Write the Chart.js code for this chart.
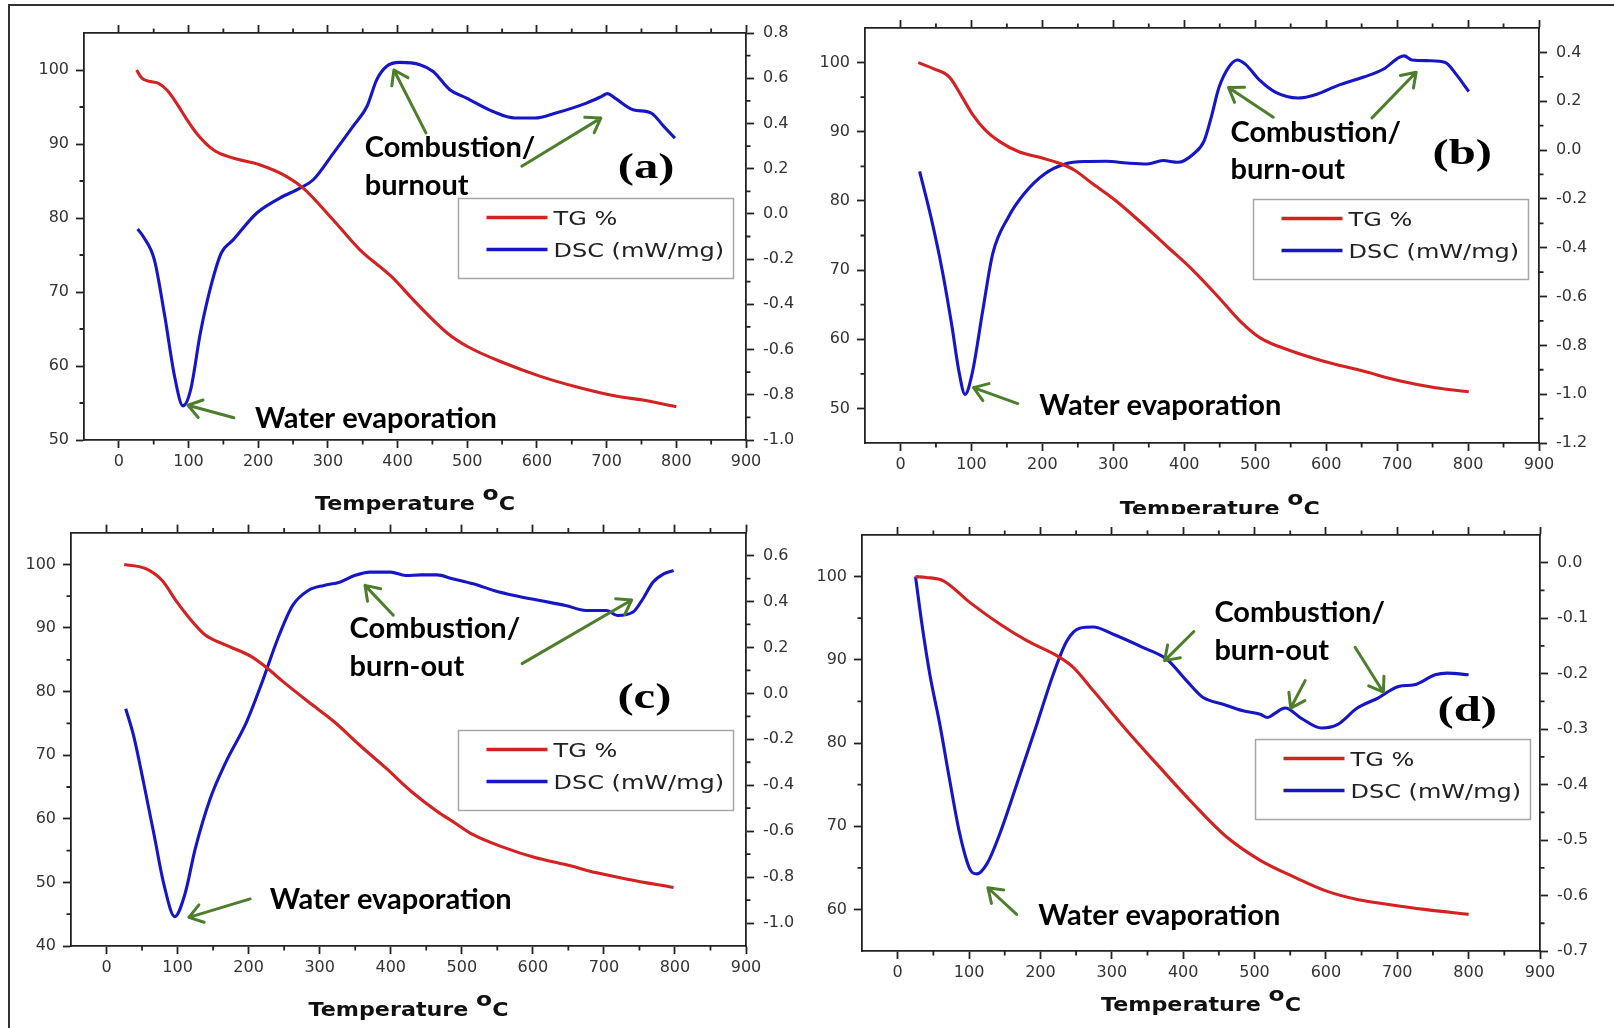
<!DOCTYPE html>
<html><head><meta charset="utf-8">
<script src="https://cdn.jsdelivr.net/npm/chart.js@4.4.1/dist/chart.umd.min.js"></script>
<style>
html,body{margin:0;padding:0;background:#fff;}
body{width:1614px;height:1028px;position:relative;overflow:hidden;}
#frame{position:absolute;left:8px;top:4px;width:1606px;height:1024px;border-top:2px solid #333;border-left:2px solid #333;box-sizing:border-box;pointer-events:none;}
.panel{position:absolute;width:807px;height:514px;}
canvas{display:block;}
</style></head>
<body>
<div class="panel" style="left:0;top:0"><canvas id="ca" width="807" height="514"></canvas></div>
<div class="panel" style="left:807px;top:0"><canvas id="cb" width="807" height="514"></canvas></div>
<div class="panel" style="left:0;top:514px"><canvas id="cc" width="807" height="514"></canvas></div>
<div class="panel" style="left:807px;top:514px"><canvas id="cd" width="807" height="514"></canvas></div>
<div id="frame"></div>
<script>
// ---------- DATA ----------
const seriesLabels = ['TG %', 'DSC (mW/mg)'];
const xTicks = [0,100,200,300,400,500,600,700,800,900];

// (a)
const tgA_T = [25.5,33,47,57,70,83,97,112,136,164,202,241,265,308,346,391,427,472,501,553,605,656,715,752,800];
const tgA   = [100,98.9,98.4,98.2,97.2,95.5,93.4,91.4,89.2,88.1,87.2,85.6,84.0,79.7,75.7,72.1,68.5,64.4,62.6,60.4,58.6,57.2,55.9,55.4,54.5];
const dscA_T = [27,35,51,66,80,92,103,117,132,147,164,198,231,260,279,308,336,356,370,384,403,432,451,475,499,537,568,597,627,671,693,701,712,738,764,782,798];
const dscA   = [-0.067,-0.100,-0.203,-0.454,-0.719,-0.849,-0.778,-0.527,-0.321,-0.173,-0.115,0.004,0.070,0.114,0.151,0.269,0.387,0.475,0.593,0.652,0.670,0.660,0.630,0.549,0.512,0.453,0.424,0.424,0.446,0.490,0.520,0.532,0.512,0.461,0.446,0.387,0.335];
const leftTicksA  = [50,60,70,80,90,100];
const rightTicksA = [-1.0,-0.8,-0.6,-0.4,-0.2,0.0,0.2,0.4,0.6,0.8];

// (b)
const tgB_T = [25,47,69,87,101,120,141,167,196,225,246,268,304,341,377,413,449,478,507,551,594,652,703,754,801];
const tgB   = [100,99.1,97.9,95.0,92.6,90.2,88.5,87.1,86.3,85.4,84.4,82.7,80.0,76.7,73.3,69.9,66.0,62.7,60.2,58.3,56.9,55.4,54.0,53.0,52.4];
const dscB_T = [27,43,58,72,83,91,101,116,130,152,174,203,232,261,290,319,348,370,391,413,428,438,449,464,475,486,507,529,560,587,616,652,681,703,710,721,746,768,783,801];
const dscB   = [-0.087,-0.275,-0.480,-0.712,-0.916,-1.001,-0.916,-0.657,-0.425,-0.275,-0.180,-0.098,-0.057,-0.047,-0.046,-0.053,-0.057,-0.043,-0.050,-0.016,0.038,0.134,0.257,0.345,0.369,0.352,0.284,0.236,0.213,0.229,0.264,0.298,0.332,0.380,0.386,0.369,0.366,0.359,0.311,0.240];
const leftTicksB  = [50,60,70,80,90,100];
const rightTicksB = [-1.2,-1.0,-0.8,-0.6,-0.4,-0.2,0.0,0.2,0.4];

// (c)
const tgC_T = [25,56,78,99,117,139,168,204,226,248,284,320,356,393,429,465,487,516,559,603,646,690,733,798];
const tgC   = [100,99.3,97.5,94.1,91.5,88.9,87.3,85.5,83.7,81.6,78.4,75.3,71.6,68.0,64.3,61.2,59.6,57.5,55.5,53.9,52.8,51.5,50.5,49.2];
const dscC_T = [27,38,52,67,81,96,110,125,146,168,197,219,241,262,284,306,328,349,371,400,421,443,465,487,516,545,574,610,646,675,704,719,741,755,769,784,798];
const dscC   = [-0.067,-0.183,-0.386,-0.617,-0.835,-0.972,-0.878,-0.675,-0.458,-0.299,-0.125,0.049,0.238,0.383,0.448,0.470,0.484,0.513,0.528,0.528,0.513,0.516,0.516,0.499,0.477,0.448,0.426,0.404,0.383,0.361,0.361,0.339,0.354,0.412,0.484,0.520,0.535];
const leftTicksC  = [40,50,60,70,80,90,100];
const rightTicksC = [-1.0,-0.8,-0.6,-0.4,-0.2,0.0,0.2,0.4,0.6];

// (d)
const tgD_T = [25,40,64,101,143,181,223,246,274,321,367,414,461,508,558,601,644,688,738,800];
const tgD   = [100,99.9,99.5,96.9,94.3,92.3,90.5,89.1,86.3,81.5,77.1,72.7,68.7,65.9,63.8,62.2,61.2,60.6,60.0,59.4];
const dscD_T = [25,34,45,59,73,87,101,111,125,143,167,195,218,237,255,274,302,344,377,405,428,456,484,508,518,529,543,565,594,616,644,673,702,724,753,770,800];
const dscD   = [-0.025,-0.111,-0.201,-0.291,-0.393,-0.489,-0.552,-0.561,-0.543,-0.489,-0.399,-0.291,-0.201,-0.141,-0.118,-0.116,-0.129,-0.153,-0.174,-0.213,-0.243,-0.255,-0.267,-0.273,-0.279,-0.271,-0.262,-0.280,-0.298,-0.292,-0.262,-0.244,-0.223,-0.220,-0.202,-0.199,-0.202];
const leftTicksD  = [60,70,80,90,100];
const rightTicksD = [-0.7,-0.6,-0.5,-0.4,-0.3,-0.2,-0.1,0.0];

// annotation texts
const txtComb = 'Combustion/';
const txtWater = 'Water evaporation';

// ---------- STYLE / LAYOUT ----------
const RED = '#d42222', BLUE = '#1616c6', GREEN = '#4d7e2c', AX = '#222', TICKC = '#333';
const tickFont = {family:'"DejaVu Sans"', size:16};

const panels = [
 {id:'ca', tgT:tgA_T, tg:tgA, dT:dscA_T, d:dscA, yMin:50, yMax:105, y2Min:-1.0, y2Max:0.8, yT:leftTicksA, y2T:rightTicksA,
  box:{l:84, r:61, t:33, b:74},
  texts:[[txtComb,352.9,88.2],['burnout',352.9,83.1],[txtWater,195.4,51.6]],
  label:['(a)',716,85.4],
  arrows:[[440.7,91.5,394.7,100.0],[578.3,87.0,691.6,93.5],[165.1,53.0,99.1,54.7]],
  legend:[486.4,82.7], title:[425,70]},
 {id:'cb', tgT:tgB_T, tg:tgB, dT:dscB_T, d:dscB, yMin:45, yMax:105, y2Min:-1.2, y2Max:0.5, yT:leftTicksB, y2T:rightTicksB,
  box:{l:58, r:75, t:28, b:71},
  texts:[[txtComb,465.2,88.5],['burn-out',465.2,83.1],[txtWater,195.7,49.1]],
  label:['(b)',750,85.4],
  arrows:[[525.5,92.1,462.4,96.4],[664.6,92.0,726.8,98.6],[165.3,50.7,102.9,53.0]],
  legend:[497.2,80.3], title:[450,72]},
 {id:'cc', tgT:tgC_T, tg:tgC, dT:dscC_T, d:dscC, yMin:40, yMax:105, y2Min:-1.1, y2Max:0.7, yT:leftTicksC, y2T:rightTicksC,
  box:{l:71, r:61, t:17, b:82},
  texts:[[txtComb,342.1,88.4],['burn-out',342.1,82.5],[txtWater,229.7,45.8]],
  label:['(c)',719,77.4],
  arrows:[[403.6,92.0,363.8,96.7],[584.8,84.4,739.1,94.4],[202.2,47.4,115.9,44.5]],
  legend:[494.2,74.0], title:[425,70]},
 {id:'cd', tgT:tgD_T, tg:tgD, dT:dscD_T, d:dscD, yMin:55, yMax:105, y2Min:-0.7, y2Max:0.05, yT:leftTicksD, y2T:rightTicksD,
  box:{l:55, r:74, t:21, b:77},
  texts:[[txtComb,443.8,94.6],['burn-out',443.8,90.0],[txtWater,197,58.1]],
  label:['(d)',756.4,82.6],
  arrows:[[415,93.4,374,89.9],[570.9,87.5,550.7,84.2],[640.9,91.5,680.5,86.1],[166.7,59.4,126.4,62.6]],
  legend:[500.2,80.5], title:[425,60]}
];

function halfSteps(ticks, min, max){
  const step = ticks[1]-ticks[0], out=[];
  for (let i=-1;i<ticks.length;i++){
    const v = (i<0? ticks[0]-step/2 : ticks[i]+step/2);
    if (v>min+1e-9 && v<max-1e-9) out.push(v);
  }
  return out;
}

function sText(ctx, str, x, y, font, sx, color){
  ctx.save(); ctx.font = font; ctx.fillStyle = color; ctx.textBaseline='alphabetic'; ctx.textAlign='left';
  ctx.translate(x,y); ctx.scale(sx,1); ctx.fillText(str,0,0); ctx.restore();
}

function arrow(ctx, x1,y1,x2,y2){
  const ang = Math.atan2(y2-y1,x2-x1), L=16, a=0.6;
  ctx.beginPath(); ctx.moveTo(x1,y1); ctx.lineTo(x2,y2);
  ctx.moveTo(x2 - L*Math.cos(ang-a), y2 - L*Math.sin(ang-a)); ctx.lineTo(x2,y2);
  ctx.lineTo(x2 - L*Math.cos(ang+a), y2 - L*Math.sin(ang+a));
  ctx.stroke();
}

function makeDecor(P){
  return {
    id:'decor',
    afterDraw(chart){
      const {ctx, chartArea:a, scales} = chart;
      const xs = scales.x, ys = scales.y, y2s = scales.y2;
      ctx.save();
      // minor ticks
      ctx.strokeStyle = AX; ctx.lineWidth = 1.8; ctx.beginPath();
      halfSteps(xTicks, -50, 900).forEach(v=>{
        const p = xs.getPixelForValue(v);
        ctx.moveTo(p,a.bottom); ctx.lineTo(p,a.bottom+4.5);
        ctx.moveTo(p,a.top); ctx.lineTo(p,a.top-4.5);
      });
      halfSteps(P.yT, P.yMin, P.yMax).forEach(v=>{
        const p = ys.getPixelForValue(v); ctx.moveTo(a.left-4.5,p); ctx.lineTo(a.left,p);
      });
      halfSteps(P.y2T, P.y2Min, P.y2Max).forEach(v=>{
        const p = y2s.getPixelForValue(v); ctx.moveTo(a.right,p); ctx.lineTo(a.right+4.5,p);
      });
      ctx.stroke();
      // annotation texts
      P.texts.forEach(t=>{
        sText(ctx, t[0], xs.getPixelForValue(t[1]), ys.getPixelForValue(t[2]), 'bold 29px Lato', 1.0, '#000');
      });
      sText(ctx, P.label[0], xs.getPixelForValue(P.label[1]), ys.getPixelForValue(P.label[2]), 'bold 36px "Liberation Serif"', 1.35, '#000');
      // arrows
      ctx.strokeStyle = GREEN; ctx.lineWidth = 3; ctx.lineCap='round'; ctx.lineJoin='round';
      P.arrows.forEach(r=>arrow(ctx, xs.getPixelForValue(r[0]), ys.getPixelForValue(r[1]), xs.getPixelForValue(r[2]), ys.getPixelForValue(r[3])));
      // legend
      const lx = Math.round(xs.getPixelForValue(P.legend[0]))+0.5, ly = Math.round(ys.getPixelForValue(P.legend[1]))+0.5;
      ctx.lineCap='butt';
      ctx.strokeStyle = '#a6a6a6'; ctx.lineWidth = 1.5; ctx.strokeRect(lx, ly, 275, 80);
      chart.data.datasets.forEach((ds,i)=>{
        const yy = ly + 19 + i*32;
        ctx.strokeStyle = ds.borderColor; ctx.lineWidth = 3.5;
        ctx.beginPath(); ctx.moveTo(lx+28,yy); ctx.lineTo(lx+89,yy); ctx.stroke();
        sText(ctx, ds.label, lx+95, yy+7.5, '20px "DejaVu Sans"', 1.2, '#222');
      });
      // x title
      const sx = 1.17, f1='bold 19px "DejaVu Sans"', f2='bold 20px "DejaVu Sans"';
      ctx.font = f1; const w1 = ctx.measureText('Temperature ').width*sx, w3 = ctx.measureText('C').width*sx;
      ctx.font = f2; const w2 = ctx.measureText('o').width*sx;
      let tx = xs.getPixelForValue(P.title[0]) - (w1+w2+w3)/2; const by = a.bottom + P.title[1];
      sText(ctx,'Temperature ',tx,by,f1,sx,'#111'); tx+=w1;
      sText(ctx,'o',tx,by-10,f2,sx,'#111'); tx+=w2;
      sText(ctx,'C',tx,by,f1,sx,'#111');
      ctx.restore();
    }
  };
}

function axisCommon(){
  return {
    grid:{drawOnChartArea:false, drawTicks:true, tickLength:8, tickWidth:1.8, tickColor:AX, color:AX},
    border:{display:true, color:AX, width:1.8}
  };
}

panels.forEach(P=>{
  const c = axisCommon();
  new Chart(document.getElementById(P.id), {
    type:'line',
    data:{datasets:[
      {label:seriesLabels[0], data:P.tgT.map((t,i)=>({x:t,y:P.tg[i]})), yAxisID:'y', borderColor:RED, borderWidth:3.1,
       pointRadius:0, cubicInterpolationMode:'monotone', fill:false},
      {label:seriesLabels[1], data:P.dT.map((t,i)=>({x:t,y:P.d[i]})), yAxisID:'y2', borderColor:BLUE, borderWidth:3.1,
       pointRadius:0, cubicInterpolationMode:'monotone', fill:false}
    ]},
    options:{
      responsive:false, animation:false, devicePixelRatio:1,
      layout:{padding:0},
      plugins:{legend:{display:false}, tooltip:{enabled:false}, title:{display:false}},
      scales:{
        x:{type:'linear', position:'bottom', min:-50, max:900,
           afterBuildTicks:s=>{s.ticks = xTicks.map(v=>({value:v}));},
           afterFit:s=>{s.height = P.box.b;},
           ticks:{autoSkip:false, maxRotation:0, padding:4, color:TICKC, font:tickFont, callback:v=>String(v)},
           grid:c.grid, border:c.border},
        xTop:{type:'linear', position:'top', min:-50, max:900,
           afterBuildTicks:s=>{s.ticks = xTicks.map(v=>({value:v}));},
           afterFit:s=>{s.height = P.box.t;},
           ticks:{display:false}, grid:c.grid, border:c.border},
        y:{type:'linear', position:'left', min:P.yMin, max:P.yMax,
           afterBuildTicks:s=>{s.ticks = P.yT.map(v=>({value:v}));},
           afterFit:s=>{s.width = P.box.l;},
           ticks:{autoSkip:false, padding:7, color:TICKC, font:tickFont, callback:v=>String(v)},
           grid:c.grid, border:c.border},
        y2:{type:'linear', position:'right', min:P.y2Min, max:P.y2Max,
           afterBuildTicks:s=>{s.ticks = P.y2T.map(v=>({value:v}));},
           afterFit:s=>{s.width = P.box.r;},
           ticks:{autoSkip:false, padding:9, color:TICKC, font:tickFont, callback:v=>Number(v).toFixed(1)},
           grid:c.grid, border:c.border}
      }
    },
    plugins:[makeDecor(P)]
  });
});
</script>
</body></html>
